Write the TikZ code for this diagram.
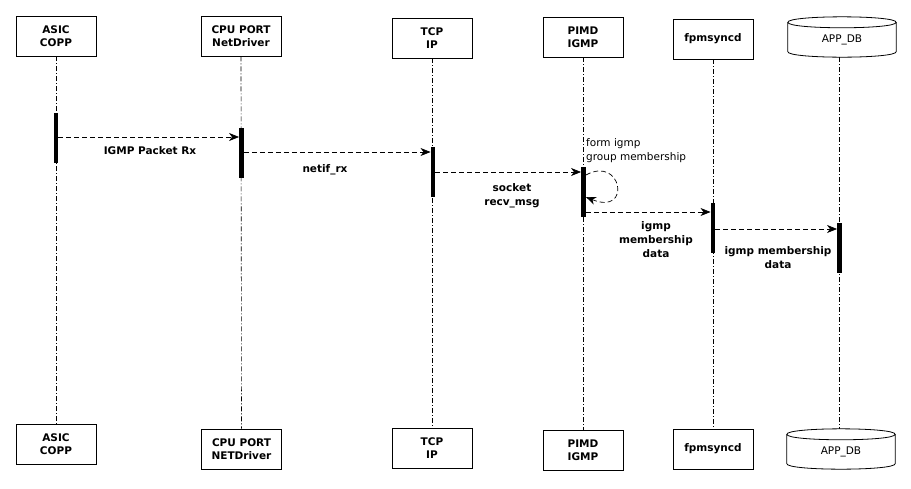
\documentclass[tikz,border=0pt]{standalone}
\usepackage{fontspec}
\setmainfont{DejaVu Sans}
\usetikzlibrary{arrows.meta}
\begin{document}
\begin{tikzpicture}[x=1pt,y=-1pt,
  actor/.style={draw, line width=0.8pt, minimum width=80pt, minimum height=40pt, inner sep=0pt, align=center, font=\fontsize{10.5}{13}\selectfont\bfseries},
  dbbox/.style={draw=none, minimum width=108pt, minimum height=40pt, inner sep=0pt, align=center, font=\fontsize{10.5}{13}\selectfont},
  cyl/.style={line width=0.8pt},
  life/.style={line width=0.6pt, dash pattern=on 5pt off 2pt on 1pt off 2pt},
  actbar/.style={fill=black, draw=none, minimum width=4.5pt, inner sep=0pt},
  msg/.style={line width=0.7pt, dash pattern=on 5pt off 3pt, -{Stealth[length=10pt,width=8pt,inset=3pt]}},
  lbl/.style={font=\fontsize{10.5}{14}\selectfont\bfseries, align=center, inner sep=0pt},
  note/.style={font=\fontsize{10.5}{13.5}\selectfont, align=left, inner sep=0pt},
]
\useasboundingbox (0,0) rectangle (911,488);
\fill[white] (0,0) rectangle (911,488);

% top actors
\node[actor] (asic) at (56,36) {ASIC\\COPP};
\node[actor] (cpu) at (241,36) {CPU PORT\\NetDriver};
\node[actor] (tcp) at (432,38) {TCP\\IP};
\node[actor] (pimd) at (583,37) {PIMD\\IGMP};
\node[actor] (fpm) at (713,39) {fpmsyncd};
\node[dbbox] (app) at (842,37) {};

% bottom actors
\node[actor] (asicb) at (56,444) {ASIC\\COPP};
\node[actor] (cpub) at (241.5,449) {CPU PORT\\NETDriver};
\node[actor] (tcpb) at (432,448) {TCP\\IP};
\node[actor] (pimdb) at (583,450) {PIMD\\IGMP};
\node[actor] (fpmb) at (713,449) {fpmsyncd};
\node[dbbox] (appb) at (841,449) {};

% cylinders
\foreach \n in {app,appb}{
  \draw[cyl] ([yshift=-5.5pt]\n.north west) .. controls ([yshift=-12.8pt]\n.north west) and ([yshift=-12.8pt]\n.north east) .. ([yshift=-5.5pt]\n.north east)
     .. controls ([yshift=1.8pt]\n.north east) and ([yshift=1.8pt]\n.north west) .. cycle;
  \draw[cyl] ([yshift=-5.5pt]\n.north west) -- ([yshift=5.5pt]\n.south west)
     .. controls ([yshift=-1.8pt]\n.south west) and ([yshift=-1.8pt]\n.south east) .. ([yshift=5.5pt]\n.south east)
     -- ([yshift=-5.5pt]\n.north east);
}
\node[font=\fontsize{10.5}{13}\selectfont, inner sep=0pt] (applbl) at ([yshift=-3pt]app.center) {APP\_DB};
\node[font=\fontsize{10.5}{13}\selectfont, inner sep=0pt] (appblbl) at ([yshift=-3pt]appb.center) {APP\_DB};

% lifelines
\draw[life] (asic.south) -- (asicb.north);
\draw[life] (cpu.south) -- (cpub.north);
\draw[life] (tcp.south) -- (tcpb.north);
\draw[life] (pimd.south) -- (pimdb.north);
\draw[life] (fpm.south) -- (fpmb.north);
\draw[life] ([xshift=-3pt]app.south) -- ([xshift=-2pt]appb.north);

% activation bars
\node[actbar, minimum height=50pt] (b1) at (56,138) {};
\node[actbar, minimum height=50pt] (b2) at (241.5,153) {};
\node[actbar, minimum height=50pt] (b3) at (433,172) {};
\node[actbar, minimum height=50pt] (b4) at (583.5,192) {};
\node[actbar, minimum height=50pt] (b5) at (713,228) {};
\node[actbar, minimum height=50pt] (b6) at (839.5,248) {};

% messages
\draw[msg] (b1.east |- 0,137) -- (b2.west |- 0,137);
\draw[msg] (b2.east |- 0,152) -- (b3.west |- 0,152);
\draw[msg] (b3.east |- 0,172) -- (b4.west |- 0,172);
\draw[msg] (b4.east |- 0,175) .. controls (622,155) and (632,216) .. (b4.east |- 0,197);
\draw[msg] (b4.east |- 0,212) -- (b5.west |- 0,212);
\draw[msg] (b5.east |- 0,229) -- (b6.west |- 0,229);

% labels
\node[lbl] (l1) at (150,151) {IGMP Packet Rx};
\node[lbl] (l2) at (325,170) {netif\_rx};
\node[lbl] (l3) at (512,195.5) {socket\\recv\_msg};
\node[note, anchor=west] (l4) at (586,150.5) {form igmp\\group membership};
\node[lbl] (l5) at (656,239.5) {igmp\\membership\\data};
\node[lbl] (l6) at (778,257.5) {igmp membership\\data};
\end{tikzpicture}
\end{document}
